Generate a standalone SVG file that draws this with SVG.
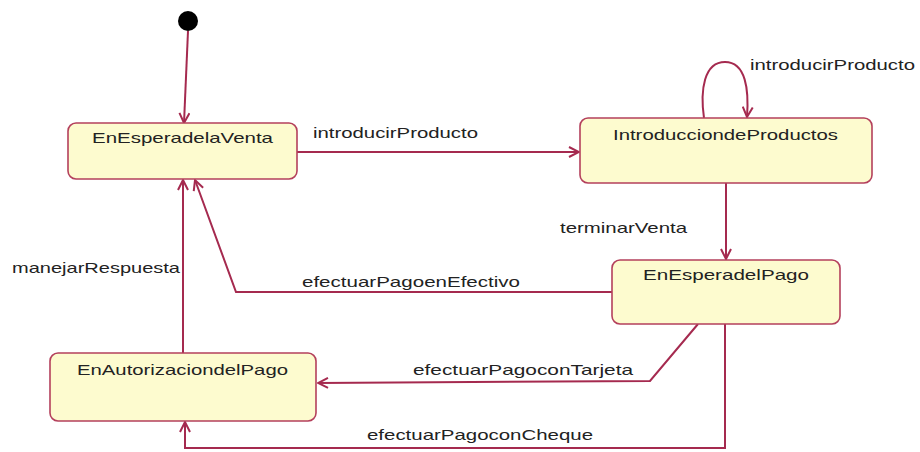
<svg xmlns="http://www.w3.org/2000/svg" width="920" height="452" viewBox="0 0 920 452">
<style>
.box{fill:#fdfbcf;stroke:#b4405c;stroke-width:1.6}
.edge{fill:none;stroke:#a52a4f;stroke-width:2}
.t{font-family:"Liberation Sans","DejaVu Sans",Arial,sans-serif;font-size:15px;fill:#222}
</style>
<defs>
<marker id="arr" viewBox="0 0 12 12" refX="11" refY="6" markerWidth="12" markerHeight="12" markerUnits="userSpaceOnUse" orient="auto">
<path d="M1,1 L11,6 L1,11" fill="none" stroke="#a52a4f" stroke-width="2"/>
</marker>
</defs>
<rect width="920" height="452" fill="#ffffff"/>
<g id="connectors">
<path class="edge" d="M188,31 L184,123" marker-end="url(#arr)"/>
<path class="edge" d="M297,152 L579,152" marker-end="url(#arr)"/>
<path class="edge" d="M704,118 C700,90 704,62 725,62 C746,62 749,90 747,117" marker-end="url(#arr)"/>
<path class="edge" d="M726,183 L726,259" marker-end="url(#arr)"/>
<path class="edge" d="M612,292 L236,292 L195,180" marker-end="url(#arr)"/>
<path class="edge" d="M698,324 L650,381 L318,383" marker-end="url(#arr)"/>
<path class="edge" d="M725,324 L725,448 L185,448 L185,422" marker-end="url(#arr)"/>
<path class="edge" d="M183,353 L183,180" marker-end="url(#arr)"/>
</g>
<g id="initial"><circle cx="188" cy="21" r="10" fill="#000"/></g>
<g id="EnEsperadelaVenta">
<rect class="box" x="68" y="123" width="229" height="56" rx="8"/>
<text class="t" x="92" y="143" textLength="181" lengthAdjust="spacingAndGlyphs">EnEsperadelaVenta</text>
</g>
<g id="IntroducciondeProductos">
<rect class="box" x="580" y="118" width="292" height="65" rx="8"/>
<text class="t" x="613" y="140" textLength="225" lengthAdjust="spacingAndGlyphs">IntroducciondeProductos</text>
</g>
<g id="EnEsperadelPago">
<rect class="box" x="612" y="260" width="228" height="64" rx="8"/>
<text class="t" x="643" y="280" textLength="166" lengthAdjust="spacingAndGlyphs">EnEsperadelPago</text>
</g>
<g id="EnAutorizaciondelPago">
<rect class="box" x="50" y="353" width="266" height="68" rx="8"/>
<text class="t" x="77" y="375" textLength="211" lengthAdjust="spacingAndGlyphs">EnAutorizaciondelPago</text>
</g>
<g id="labels">
<text class="t" x="313" y="138" textLength="165" lengthAdjust="spacingAndGlyphs">introducirProducto</text>
<text class="t" x="750" y="70" textLength="165" lengthAdjust="spacingAndGlyphs">introducirProducto</text>
<text class="t" x="560" y="233" textLength="127" lengthAdjust="spacingAndGlyphs">terminarVenta</text>
<text class="t" x="302" y="287" textLength="218" lengthAdjust="spacingAndGlyphs">efectuarPagoenEfectivo</text>
<text class="t" x="12" y="273" textLength="168" lengthAdjust="spacingAndGlyphs">manejarRespuesta</text>
<text class="t" x="413" y="375" textLength="220" lengthAdjust="spacingAndGlyphs">efectuarPagoconTarjeta</text>
<text class="t" x="367" y="440" textLength="226" lengthAdjust="spacingAndGlyphs">efectuarPagoconCheque</text>
</g>
</svg>
